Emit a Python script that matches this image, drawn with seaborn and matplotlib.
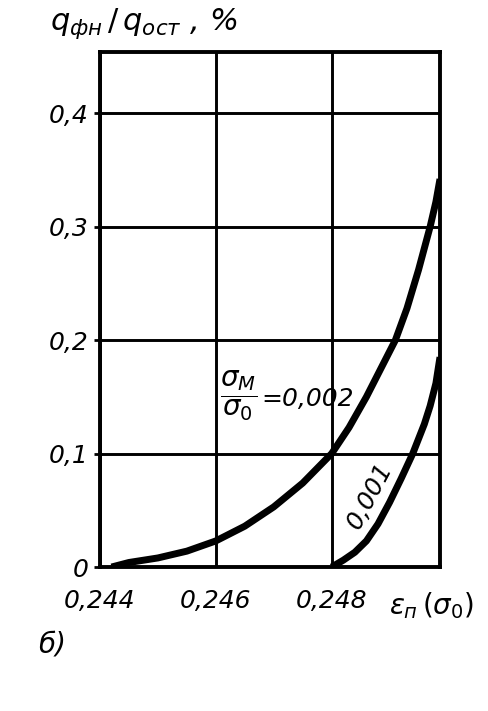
import matplotlib
matplotlib.use("Agg")
import matplotlib.pyplot as plt
import seaborn as sns
import pandas as pd

# ---- data ----
eps_002 = [0.2442, 0.2445, 0.2450, 0.2455, 0.2460, 0.2465, 0.2470, 0.2475,
           0.2480, 0.2483, 0.2486, 0.2489, 0.2491, 0.2493, 0.2495, 0.2497,
           0.2498, 0.24987]
q_002 = [0.000, 0.004, 0.008, 0.014, 0.023, 0.036, 0.053, 0.074,
         0.100, 0.123, 0.150, 0.180, 0.200, 0.228, 0.262, 0.300,
         0.322, 0.342]

eps_001 = [0.2480, 0.2482, 0.2484, 0.2486, 0.2488, 0.2490, 0.2492, 0.2494,
           0.2496, 0.2497, 0.2498, 0.24987]
q_001 = [0.000, 0.006, 0.013, 0.023, 0.038, 0.057, 0.078, 0.100,
         0.126, 0.142, 0.162, 0.185]

x_ticks = [0.244, 0.246, 0.248]
x_tick_labels = ["0,244", "0,246", "0,248"]
y_ticks = [0.0, 0.1, 0.2, 0.3, 0.4]
y_tick_labels = ["0", "0,1", "0,2", "0,3", "0,4"]

df = pd.concat([
    pd.DataFrame({"eps": eps_002, "q": q_002, "ratio": "0,002"}),
    pd.DataFrame({"eps": eps_001, "q": q_001, "ratio": "0,001"}),
])

sns.set_theme(style="white")
plt.rcParams["font.family"] = ["DejaVu Sans"]
plt.rcParams["mathtext.fontset"] = "dejavusans"
plt.rcParams["text.color"] = "black"
plt.rcParams["xtick.color"] = "black"
plt.rcParams["ytick.color"] = "black"

fig = plt.figure(figsize=(4.88, 7.11), dpi=100)
ax = fig.add_axes([0.2049, 0.2025, 0.6967, 0.7244])

sns.lineplot(data=df, x="eps", y="q", hue="ratio", palette=["black", "black"],
             linewidth=5, legend=False, ax=ax, sort=True, estimator=None,
             solid_capstyle="butt", solid_joinstyle="round")

ax.set_xlim(0.244, 0.24987)
ax.set_ylim(0, 0.454)
ax.set_xticks(x_ticks)
ax.set_xticklabels(x_tick_labels)
ax.set_yticks(y_ticks)
ax.set_yticklabels(y_tick_labels)
ax.grid(True, color="black", linewidth=2.1)
ax.set_axisbelow(True)
for s in ax.spines.values():
    s.set_color("black")
    s.set_linewidth(2.8)

ax.tick_params(axis="x", length=0, pad=16, labelsize=18, labelcolor="black")
ax.tick_params(axis="y", length=4, width=2, pad=4, labelsize=18,
               direction="out", left=True, labelcolor="black")
for lab in ax.get_xticklabels() + ax.get_yticklabels():
    lab.set_fontstyle("italic")
ax.set_xlabel("")
ax.set_ylabel("")

# axis titles
fig.text(50 / 488, 1 - 24 / 711, r"$q_{фн}\,/\,q_{ост}$ , %", fontsize=22,
         ha="left", va="center", fontstyle="italic", color="black")
ax.text(0.976, -0.075, r"$\varepsilon_п\,(\sigma_0)$", transform=ax.transAxes,
        fontsize=20, ha="center", va="center", fontstyle="italic",
        clip_on=False, color="black")

# curve labels
ax.text(0.24608, 0.151, r"$\dfrac{\sigma_М}{\sigma_0}$", fontsize=20,
        ha="left", va="center", color="black")
ax.text(0.24678, 0.148, "=0,002", fontsize=18, ha="left", va="center",
        fontstyle="italic", color="black")
ax.text(0.24866, 0.063, "0,001", fontsize=18, rotation=62, ha="center",
        va="center", fontstyle="italic", color="black")

fig.text(52 / 488, 1 - 645 / 711, "б)", fontsize=20, ha="center", va="center",
         fontstyle="italic", color="black")

fig.savefig("out.png", dpi=100, facecolor="white")
